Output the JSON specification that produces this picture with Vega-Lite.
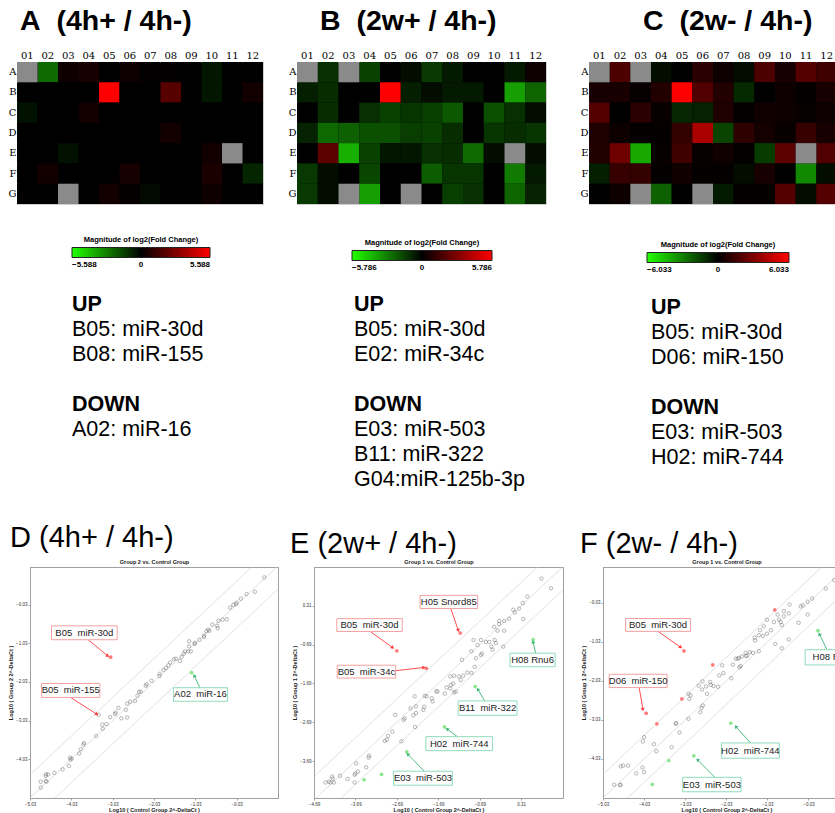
{
"$schema": "https://vega.github.io/schema/vega-lite/v6.json",
"padding": {"left": 0, "top": 6, "right": 0, "bottom": 0},
"background": "white",
"config": {"view": {"stroke": null}, "font": "Liberation Sans", "text": {"font": "Liberation Sans"}},
"spacing": 0,
"datasets": {
"heatA": [
{"r":"A","c":"01","v":null},{"r":"A","c":"02","v":-2.3},{"r":"A","c":"03","v":0.3},{"r":"A","c":"04","v":0.5},{"r":"A","c":"05","v":0},{"r":"A","c":"06","v":0.3},{"r":"A","c":"07","v":0.05},{"r":"A","c":"08","v":0.05},{"r":"A","c":"09","v":0},{"r":"A","c":"10","v":-0.5},{"r":"A","c":"11","v":0},{"r":"A","c":"12","v":0},
{"r":"B","c":"01","v":0},{"r":"B","c":"02","v":0},{"r":"B","c":"03","v":0},{"r":"B","c":"04","v":0},{"r":"B","c":"05","v":5.588},{"r":"B","c":"06","v":0},{"r":"B","c":"07","v":0},{"r":"B","c":"08","v":1.9},{"r":"B","c":"09","v":0},{"r":"B","c":"10","v":-0.5},{"r":"B","c":"11","v":0},{"r":"B","c":"12","v":0.4},
{"r":"C","c":"01","v":-0.4},{"r":"C","c":"02","v":0},{"r":"C","c":"03","v":0},{"r":"C","c":"04","v":0.4},{"r":"C","c":"05","v":0},{"r":"C","c":"06","v":0},{"r":"C","c":"07","v":0},{"r":"C","c":"08","v":0},{"r":"C","c":"09","v":0},{"r":"C","c":"10","v":0},{"r":"C","c":"11","v":0},{"r":"C","c":"12","v":0},
{"r":"D","c":"01","v":0},{"r":"D","c":"02","v":0},{"r":"D","c":"03","v":0},{"r":"D","c":"04","v":0},{"r":"D","c":"05","v":0},{"r":"D","c":"06","v":0},{"r":"D","c":"07","v":0},{"r":"D","c":"08","v":0.4},{"r":"D","c":"09","v":0},{"r":"D","c":"10","v":0},{"r":"D","c":"11","v":0},{"r":"D","c":"12","v":0},
{"r":"E","c":"01","v":0},{"r":"E","c":"02","v":0},{"r":"E","c":"03","v":-0.4},{"r":"E","c":"04","v":0},{"r":"E","c":"05","v":0},{"r":"E","c":"06","v":0},{"r":"E","c":"07","v":0},{"r":"E","c":"08","v":0},{"r":"E","c":"09","v":0},{"r":"E","c":"10","v":0.4},{"r":"E","c":"11","v":null},{"r":"E","c":"12","v":0},
{"r":"F","c":"01","v":0},{"r":"F","c":"02","v":0.4},{"r":"F","c":"03","v":0},{"r":"F","c":"04","v":0},{"r":"F","c":"05","v":0},{"r":"F","c":"06","v":0.5},{"r":"F","c":"07","v":0},{"r":"F","c":"08","v":0},{"r":"F","c":"09","v":0},{"r":"F","c":"10","v":0.6},{"r":"F","c":"11","v":0},{"r":"F","c":"12","v":-0.8},
{"r":"G","c":"01","v":0},{"r":"G","c":"02","v":0},{"r":"G","c":"03","v":null},{"r":"G","c":"04","v":0},{"r":"G","c":"05","v":0.4},{"r":"G","c":"06","v":0.1},{"r":"G","c":"07","v":-0.2},{"r":"G","c":"08","v":0},{"r":"G","c":"09","v":0},{"r":"G","c":"10","v":0.3},{"r":"G","c":"11","v":0},{"r":"G","c":"12","v":0}
],
"heatB": [
{"r":"A","c":"01","v":null},{"r":"A","c":"02","v":-1.1},{"r":"A","c":"03","v":null},{"r":"A","c":"04","v":-1.5},{"r":"A","c":"05","v":0},{"r":"A","c":"06","v":-0.3},{"r":"A","c":"07","v":-1.3},{"r":"A","c":"08","v":-0.6},{"r":"A","c":"09","v":0},{"r":"A","c":"10","v":0},{"r":"A","c":"11","v":-0.6},{"r":"A","c":"12","v":0.3},
{"r":"B","c":"01","v":-0.7},{"r":"B","c":"02","v":-1.0},{"r":"B","c":"03","v":0},{"r":"B","c":"04","v":0},{"r":"B","c":"05","v":5.786},{"r":"B","c":"06","v":-0.7},{"r":"B","c":"07","v":-0.3},{"r":"B","c":"08","v":-0.6},{"r":"B","c":"09","v":-0.6},{"r":"B","c":"10","v":0},{"r":"B","c":"11","v":-3.6},{"r":"B","c":"12","v":-2.3},
{"r":"C","c":"01","v":0},{"r":"C","c":"02","v":-1.0},{"r":"C","c":"03","v":0},{"r":"C","c":"04","v":-1.1},{"r":"C","c":"05","v":-1.5},{"r":"C","c":"06","v":-1.2},{"r":"C","c":"07","v":-1.4},{"r":"C","c":"08","v":-2.0},{"r":"C","c":"09","v":0},{"r":"C","c":"10","v":-1.8},{"r":"C","c":"11","v":-1.1},{"r":"C","c":"12","v":-0.3},
{"r":"D","c":"01","v":-0.8},{"r":"D","c":"02","v":-2.4},{"r":"D","c":"03","v":-2.2},{"r":"D","c":"04","v":-1.8},{"r":"D","c":"05","v":-1.8},{"r":"D","c":"06","v":-1.4},{"r":"D","c":"07","v":-1.5},{"r":"D","c":"08","v":-1.0},{"r":"D","c":"09","v":0},{"r":"D","c":"10","v":-1.2},{"r":"D","c":"11","v":-1.0},{"r":"D","c":"12","v":-1.2},
{"r":"E","c":"01","v":0},{"r":"E","c":"02","v":2.1},{"r":"E","c":"03","v":-4.0},{"r":"E","c":"04","v":-1.5},{"r":"E","c":"05","v":-0.5},{"r":"E","c":"06","v":-0.5},{"r":"E","c":"07","v":-1.1},{"r":"E","c":"08","v":-1.0},{"r":"E","c":"09","v":-2.4},{"r":"E","c":"10","v":-0.3},{"r":"E","c":"11","v":null},{"r":"E","c":"12","v":-0.3},
{"r":"F","c":"01","v":-1.3},{"r":"F","c":"02","v":-0.3},{"r":"F","c":"03","v":0},{"r":"F","c":"04","v":-1.6},{"r":"F","c":"05","v":0},{"r":"F","c":"06","v":0},{"r":"F","c":"07","v":-2.1},{"r":"F","c":"08","v":-1.2},{"r":"F","c":"09","v":-1.2},{"r":"F","c":"10","v":0},{"r":"F","c":"11","v":-2.8},{"r":"F","c":"12","v":-0.6},
{"r":"G","c":"01","v":-1.3},{"r":"G","c":"02","v":-0.3},{"r":"G","c":"03","v":null},{"r":"G","c":"04","v":-3.6},{"r":"G","c":"05","v":0},{"r":"G","c":"06","v":null},{"r":"G","c":"07","v":0},{"r":"G","c":"08","v":-1.4},{"r":"G","c":"09","v":-1.1},{"r":"G","c":"10","v":0},{"r":"G","c":"11","v":-2.3},{"r":"G","c":"12","v":-0.8}
],
"heatC": [
{"r":"A","c":"01","v":null},{"r":"A","c":"02","v":1.8},{"r":"A","c":"03","v":null},{"r":"A","c":"04","v":-0.3},{"r":"A","c":"05","v":0},{"r":"A","c":"06","v":1.0},{"r":"A","c":"07","v":0.3},{"r":"A","c":"08","v":-0.3},{"r":"A","c":"09","v":1.8},{"r":"A","c":"10","v":0.6},{"r":"A","c":"11","v":2.0},{"r":"A","c":"12","v":1.5},
{"r":"B","c":"01","v":0.6},{"r":"B","c":"02","v":0.6},{"r":"B","c":"03","v":0.2},{"r":"B","c":"04","v":0.8},{"r":"B","c":"05","v":6.033},{"r":"B","c":"06","v":1.9},{"r":"B","c":"07","v":0.8},{"r":"B","c":"08","v":-1.0},{"r":"B","c":"09","v":0},{"r":"B","c":"10","v":0.3},{"r":"B","c":"11","v":0.1},{"r":"B","c":"12","v":0.6},
{"r":"C","c":"01","v":2.0},{"r":"C","c":"02","v":0},{"r":"C","c":"03","v":1.0},{"r":"C","c":"04","v":0.2},{"r":"C","c":"05","v":-0.9},{"r":"C","c":"06","v":-0.8},{"r":"C","c":"07","v":0.7},{"r":"C","c":"08","v":0.1},{"r":"C","c":"09","v":0.4},{"r":"C","c":"10","v":0.3},{"r":"C","c":"11","v":0.2},{"r":"C","c":"12","v":0.3},
{"r":"D","c":"01","v":0.7},{"r":"D","c":"02","v":0.3},{"r":"D","c":"03","v":0.1},{"r":"D","c":"04","v":0.1},{"r":"D","c":"05","v":1.2},{"r":"D","c":"06","v":4.0},{"r":"D","c":"07","v":-1.6},{"r":"D","c":"08","v":1.1},{"r":"D","c":"09","v":0.5},{"r":"D","c":"10","v":0.2},{"r":"D","c":"11","v":1.3},{"r":"D","c":"12","v":0.6},
{"r":"E","c":"01","v":0.8},{"r":"E","c":"02","v":2.6},{"r":"E","c":"03","v":-4.0},{"r":"E","c":"04","v":0.2},{"r":"E","c":"05","v":1.5},{"r":"E","c":"06","v":0.2},{"r":"E","c":"07","v":0.4},{"r":"E","c":"08","v":0.1},{"r":"E","c":"09","v":-1.4},{"r":"E","c":"10","v":2.2},{"r":"E","c":"11","v":null},{"r":"E","c":"12","v":1.9},
{"r":"F","c":"01","v":-0.7},{"r":"F","c":"02","v":1.3},{"r":"F","c":"03","v":1.2},{"r":"F","c":"04","v":0.1},{"r":"F","c":"05","v":0.4},{"r":"F","c":"06","v":0.1},{"r":"F","c":"07","v":0.1},{"r":"F","c":"08","v":-0.3},{"r":"F","c":"09","v":0.6},{"r":"F","c":"10","v":0},{"r":"F","c":"11","v":-3.2},{"r":"F","c":"12","v":-0.3},
{"r":"G","c":"01","v":0},{"r":"G","c":"02","v":0.3},{"r":"G","c":"03","v":null},{"r":"G","c":"04","v":-2.3},{"r":"G","c":"05","v":0},{"r":"G","c":"06","v":null},{"r":"G","c":"07","v":-0.6},{"r":"G","c":"08","v":0.1},{"r":"G","c":"09","v":0.1},{"r":"G","c":"10","v":2.0},{"r":"G","c":"11","v":-0.3},{"r":"G","c":"12","v":2.0}
],
"diag": [
{"o":"a","x":-7,"y":-7},{"o":"a","x":3,"y":3},
{"o":"b","x":-7,"y":-6.398},{"o":"b","x":3,"y":3.602},
{"o":"c","x":-7,"y":-7.602},{"o":"c","x":3,"y":2.398}
],
"ptsD": [
{"x":0.64,"y":0.67,"t":"n"},{"x":0.41,"y":0.30,"t":"n"},{"x":0.21,"y":0.24,"t":"n"},{"x":0.07,"y":0.12,"t":"n"},{"x":-0.03,"y":0.02,"t":"n"},{"x":-0.05,"y":-0.02,"t":"n"},{"x":-0.11,"y":-0.04,"t":"n"},{"x":-0.19,"y":-0.11,"t":"n"},{"x":-0.27,"y":-0.41,"t":"n"},{"x":-0.37,"y":-0.42,"t":"n"},{"x":-0.47,"y":-0.45,"t":"n"},{"x":-0.50,"y":-0.58,"t":"n"},{"x":-0.49,"y":-0.64,"t":"n"},{"x":-0.62,"y":-0.55,"t":"n"},{"x":-0.69,"y":-0.71,"t":"n"},{"x":-0.72,"y":-0.68,"t":"n"},{"x":-0.76,"y":-0.72,"t":"n"},{"x":-0.82,"y":-0.83,"t":"n"},{"x":-0.82,"y":-0.87,"t":"n"},{"x":-0.93,"y":-0.94,"t":"n"},{"x":-1.04,"y":-1.02,"t":"n"},{"x":-1.05,"y":-1.05,"t":"n"},{"x":-1.18,"y":-0.98,"t":"n"},{"x":-1.18,"y":-1.11,"t":"n"},{"x":-1.20,"y":-1.24,"t":"n"},{"x":-1.28,"y":-1.24,"t":"n"},{"x":-1.31,"y":-1.30,"t":"n"},{"x":-1.14,"y":-1.24,"t":"n"},{"x":-1.36,"y":-1.38,"t":"n"},{"x":-1.40,"y":-1.49,"t":"n"},{"x":-1.50,"y":-1.43,"t":"n"},{"x":-1.55,"y":-1.45,"t":"n"},{"x":-1.64,"y":-1.53,"t":"n"},{"x":-1.68,"y":-1.60,"t":"n"},{"x":-1.74,"y":-1.67,"t":"n"},{"x":-1.80,"y":-1.72,"t":"n"},{"x":-1.89,"y":-1.82,"t":"n"},{"x":-1.90,"y":-1.88,"t":"n"},{"x":-2.09,"y":-2.00,"t":"n"},{"x":-2.21,"y":-2.09,"t":"n"},{"x":-2.23,"y":-2.13,"t":"n"},{"x":-2.35,"y":-2.28,"t":"n"},{"x":-2.39,"y":-2.29,"t":"n"},{"x":-2.43,"y":-2.39,"t":"n"},{"x":-2.49,"y":-2.52,"t":"n"},{"x":-2.61,"y":-2.54,"t":"n"},{"x":-2.68,"y":-2.59,"t":"n"},{"x":-2.71,"y":-2.75,"t":"n"},{"x":-2.89,"y":-2.70,"t":"n"},{"x":-2.96,"y":-2.82,"t":"n"},{"x":-2.97,"y":-2.86,"t":"n"},{"x":-3.09,"y":-2.94,"t":"n"},{"x":-2.82,"y":-2.97,"t":"n"},{"x":-2.68,"y":-2.95,"t":"n"},{"x":-3.18,"y":-3.12,"t":"n"},{"x":-3.28,"y":-3.13,"t":"n"},{"x":-3.27,"y":-3.24,"t":"n"},{"x":-3.43,"y":-3.43,"t":"n"},{"x":-3.72,"y":-3.61,"t":"n"},{"x":-3.74,"y":-3.65,"t":"n"},{"x":-3.80,"y":-3.77,"t":"n"},{"x":-3.84,"y":-3.88,"t":"n"},{"x":-4.02,"y":-4.01,"t":"n"},{"x":-4.05,"y":-4.04,"t":"n"},{"x":-4.06,"y":-3.99,"t":"n"},{"x":-4.09,"y":-4.20,"t":"n"},{"x":-4.24,"y":-4.29,"t":"n"},{"x":-4.44,"y":-4.38,"t":"n"},{"x":-4.59,"y":-4.42,"t":"n"},{"x":-4.64,"y":-4.42,"t":"n"},{"x":-4.65,"y":-4.46,"t":"n"},{"x":-4.65,"y":-4.59,"t":"n"},{"x":-4.63,"y":-4.61,"t":"n"},{"x":-4.77,"y":-4.61,"t":"n"},{"x":-4.77,"y":-4.76,"t":"n"},{"x":-3.37,"y":-2.88,"t":"n"},
{"x":-3.08,"y":-1.39,"t":"up"},{"x":-1.12,"y":-1.79,"t":"down"}
],
"annD": [
{"lab":"B05\u00a0 miR-30d","t":"up","bx1":-4.51,"bx2":-2.92,"by1":-0.58,"by2":-0.94,"tx":-3.715,"ty":-0.76,"ax":-3.62,"ay":-0.94,"ex":-3.16,"ey":-1.35,"ang":130},
{"lab":"B05\u00a0 miR-155","t":"up","bx1":-4.75,"bx2":-3.34,"by1":-2.07,"by2":-2.43,"tx":-4.045,"ty":-2.25,"ax":-4.05,"ay":-2.43,"ex":-3.42,"ey":-2.86,"ang":123},
{"lab":"A02\u00a0 miR-16","t":"down","bx1":-1.56,"bx2":-0.25,"by1":-2.18,"by2":-2.53,"tx":-0.905,"ty":-2.355,"ax":-0.92,"ay":-2.18,"ex":-1.05,"ey":-1.88,"ang":-26}
],
"ptsE": [
{"x":0.80,"y":1.01,"t":"n"},{"x":1.03,"y":0.76,"t":"n"},{"x":0.46,"y":0.55,"t":"n"},{"x":0.35,"y":0.38,"t":"n"},{"x":0.26,"y":0.24,"t":"n"},{"x":0.12,"y":0.21,"t":"n"},{"x":0.16,"y":0.14,"t":"n"},{"x":0.02,"y":-0.02,"t":"n"},{"x":-0.10,"y":-0.08,"t":"n"},{"x":-0.22,"y":-0.08,"t":"n"},{"x":-0.22,"y":-0.16,"t":"n"},{"x":-0.34,"y":-0.23,"t":"n"},{"x":0.36,"y":-0.03,"t":"n"},{"x":-0.10,"y":-0.33,"t":"n"},{"x":-0.26,"y":-0.33,"t":"n"},{"x":-0.66,"y":-0.57,"t":"n"},{"x":-0.84,"y":-0.57,"t":"n"},{"x":-0.54,"y":-0.62,"t":"n"},{"x":-0.46,"y":-0.62,"t":"n"},{"x":-0.33,"y":-0.57,"t":"n"},{"x":-0.30,"y":-0.65,"t":"n"},{"x":-0.41,"y":-0.74,"t":"n"},{"x":-0.38,"y":-0.82,"t":"n"},{"x":-0.12,"y":-0.74,"t":"n"},{"x":-0.74,"y":-0.70,"t":"n"},{"x":-0.89,"y":-0.86,"t":"n"},{"x":-0.64,"y":-0.92,"t":"n"},{"x":-0.66,"y":-0.96,"t":"n"},{"x":-0.78,"y":-1.04,"t":"n"},{"x":-1.12,"y":-1.08,"t":"n"},{"x":-0.81,"y":-1.26,"t":"n"},{"x":-0.99,"y":-1.41,"t":"n"},{"x":-0.89,"y":-1.42,"t":"n"},{"x":-1.09,"y":-1.49,"t":"n"},{"x":-1.19,"y":-1.51,"t":"n"},{"x":-1.31,"y":-1.49,"t":"n"},{"x":-1.40,"y":-1.51,"t":"n"},{"x":-1.15,"y":-1.60,"t":"n"},{"x":-1.33,"y":-1.69,"t":"n"},{"x":-1.39,"y":-1.73,"t":"n"},{"x":-1.40,"y":-1.82,"t":"n"},{"x":-1.49,"y":-1.79,"t":"n"},{"x":-1.74,"y":-1.89,"t":"n"},{"x":-1.71,"y":-1.90,"t":"n"},{"x":-1.53,"y":-1.95,"t":"n"},{"x":-1.31,"y":-1.92,"t":"n"},{"x":-1.27,"y":-1.90,"t":"n"},{"x":-1.85,"y":-2.07,"t":"n"},{"x":-2.02,"y":-2.01,"t":"n"},{"x":-1.97,"y":-2.02,"t":"n"},{"x":-2.26,"y":-2.02,"t":"n"},{"x":-1.83,"y":-2.15,"t":"n"},{"x":-2.03,"y":-2.29,"t":"n"},{"x":-2.05,"y":-2.37,"t":"n"},{"x":-2.23,"y":-2.28,"t":"n"},{"x":-2.23,"y":-2.45,"t":"n"},{"x":-2.36,"y":-2.33,"t":"n"},{"x":-2.50,"y":-2.59,"t":"n"},{"x":-2.53,"y":-2.63,"t":"n"},{"x":-2.73,"y":-2.50,"t":"n"},{"x":-2.29,"y":-2.51,"t":"n"},{"x":-2.25,"y":-2.81,"t":"n"},{"x":-2.80,"y":-2.93,"t":"n"},{"x":-2.90,"y":-3.04,"t":"n"},{"x":-2.93,"y":-3.14,"t":"n"},{"x":-2.98,"y":-3.17,"t":"n"},{"x":-2.58,"y":-3.18,"t":"n"},{"x":-3.36,"y":-3.55,"t":"n"},{"x":-3.37,"y":-3.60,"t":"n"},{"x":-3.43,"y":-3.85,"t":"n"},{"x":-3.67,"y":-3.75,"t":"n"},{"x":-3.63,"y":-3.96,"t":"n"},{"x":-3.69,"y":-4.01,"t":"n"},{"x":-3.71,"y":-4.04,"t":"n"},{"x":-4.06,"y":-4.07,"t":"n"},{"x":-3.88,"y":-4.15,"t":"n"},{"x":-4.25,"y":-4.09,"t":"n"},{"x":-4.24,"y":-4.14,"t":"n"},{"x":-4.21,"y":-4.24,"t":"n"},{"x":-4.29,"y":-4.24,"t":"n"},{"x":-4.33,"y":-4.22,"t":"n"},{"x":-4.41,"y":-4.24,"t":"n"},{"x":-3.71,"y":-4.24,"t":"n"},
{"x":0.60,"y":-0.56,"t":"down"},{"x":-0.80,"y":-1.77,"t":"down"},{"x":-1.54,"y":-2.81,"t":"down"},{"x":-2.45,"y":-3.45,"t":"down"},{"x":-3.06,"y":-4.03,"t":"down"},{"x":-3.48,"y":-4.17,"t":"down"},
{"x":-1.16,"y":-0.39,"t":"up"},{"x":-2.69,"y":-0.85,"t":"up"},{"x":-1.98,"y":-1.30,"t":"up"}
],
"annE": [
{"lab":"H05 Snord85","t":"up","bx1":-2.13,"bx2":-0.74,"by1":0.58,"by2":0.24,"tx":-1.435,"ty":0.41,"ax":-1.39,"ay":0.24,"ex":-1.21,"ey":-0.31,"ang":161},
{"lab":"B05\u00a0 miR-30d","t":"up","bx1":-4.14,"bx2":-2.56,"by1":-0.02,"by2":-0.35,"tx":-3.35,"ty":-0.185,"ax":-3.32,"ay":-0.36,"ex":-2.80,"ey":-0.76,"ang":126},
{"lab":"B05\u00a0 miR-34c","t":"up","bx1":-4.13,"bx2":-2.72,"by1":-1.22,"by2":-1.55,"tx":-3.425,"ty":-1.385,"ax":-2.72,"ay":-1.36,"ex":-2.05,"ey":-1.28,"ang":83},
{"lab":"H08 Rnu6","t":"down","bx1":0.04,"bx2":1.13,"by1":-0.91,"by2":-1.26,"tx":0.585,"ty":-1.085,"ax":0.66,"ay":-0.91,"ex":0.60,"ey":-0.63,"ang":-14},
{"lab":"B11\u00a0 miR-322","t":"down","bx1":-1.21,"bx2":0.21,"by1":-2.14,"by2":-2.51,"tx":-0.5,"ty":-2.325,"ax":-0.57,"ay":-2.14,"ex":-0.73,"ey":-1.85,"ang":-31},
{"lab":"H02\u00a0 miR-744","t":"down","bx1":-1.99,"bx2":-0.38,"by1":-3.06,"by2":-3.42,"tx":-1.185,"ty":-3.24,"ax":-1.23,"ay":-3.06,"ex":-1.47,"ey":-2.87,"ang":-52},
{"lab":"E03\u00a0 miR-503","t":"down","bx1":-2.77,"bx2":-1.35,"by1":-3.95,"by2":-4.31,"tx":-2.06,"ty":-4.13,"ax":-2.03,"ay":-3.95,"ex":-2.42,"ey":-3.52,"ang":-44}
],
"ptsF": [
{"x":0.60,"y":0.55,"t":"n"},{"x":0.39,"y":0.34,"t":"n"},{"x":0.06,"y":0.08,"t":"n"},{"x":-0.05,"y":0.00,"t":"n"},{"x":-0.17,"y":-0.09,"t":"n"},{"x":-0.22,"y":-0.12,"t":"n"},{"x":-0.49,"y":-0.07,"t":"n"},{"x":-0.63,"y":-0.24,"t":"n"},{"x":-0.63,"y":-0.37,"t":"n"},{"x":-0.78,"y":-0.33,"t":"n"},{"x":-0.51,"y":-0.30,"t":"n"},{"x":-0.71,"y":-0.52,"t":"n"},{"x":-0.75,"y":-0.46,"t":"n"},{"x":-0.87,"y":-0.52,"t":"n"},{"x":-0.68,"y":-0.60,"t":"n"},{"x":-0.27,"y":-0.54,"t":"n"},{"x":-0.05,"y":-0.33,"t":"n"},{"x":-1.04,"y":-0.46,"t":"n"},{"x":-1.12,"y":-0.63,"t":"n"},{"x":-1.21,"y":-0.73,"t":"n"},{"x":-1.24,"y":-0.86,"t":"n"},{"x":-1.33,"y":-0.99,"t":"n"},{"x":-1.34,"y":-0.92,"t":"n"},{"x":-1.14,"y":-0.88,"t":"n"},{"x":-0.94,"y":-0.73,"t":"n"},{"x":-1.04,"y":-0.82,"t":"n"},{"x":-0.84,"y":-1.08,"t":"n"},{"x":-0.68,"y":-1.19,"t":"n"},{"x":-0.51,"y":-0.97,"t":"n"},{"x":-1.24,"y":-1.27,"t":"n"},{"x":-1.38,"y":-1.31,"t":"n"},{"x":-1.46,"y":-1.29,"t":"n"},{"x":-1.52,"y":-1.38,"t":"n"},{"x":-1.55,"y":-1.39,"t":"n"},{"x":-1.56,"y":-1.31,"t":"n"},{"x":-1.65,"y":-1.40,"t":"n"},{"x":-1.72,"y":-1.44,"t":"n"},{"x":-1.75,"y":-1.46,"t":"n"},{"x":-1.80,"y":-1.46,"t":"n"},{"x":-1.68,"y":-1.65,"t":"n"},{"x":-1.71,"y":-1.68,"t":"n"},{"x":-1.87,"y":-1.61,"t":"n"},{"x":-2.13,"y":-1.63,"t":"n"},{"x":-2.10,"y":-1.83,"t":"n"},{"x":-2.20,"y":-1.89,"t":"n"},{"x":-1.91,"y":-1.96,"t":"n"},{"x":-2.42,"y":-2.06,"t":"n"},{"x":-2.41,"y":-2.13,"t":"n"},{"x":-2.61,"y":-2.04,"t":"n"},{"x":-2.70,"y":-2.15,"t":"n"},{"x":-2.62,"y":-2.25,"t":"n"},{"x":-2.52,"y":-2.17,"t":"n"},{"x":-2.34,"y":-2.16,"t":"n"},{"x":-2.23,"y":-2.18,"t":"n"},{"x":-2.90,"y":-2.40,"t":"n"},{"x":-2.95,"y":-2.36,"t":"n"},{"x":-2.93,"y":-2.49,"t":"n"},{"x":-2.50,"y":-2.36,"t":"n"},{"x":-2.60,"y":-2.66,"t":"n"},{"x":-2.63,"y":-2.72,"t":"n"},{"x":-2.66,"y":-2.83,"t":"n"},{"x":-2.95,"y":-3.00,"t":"n"},{"x":-3.26,"y":-3.13,"t":"n"},{"x":-3.25,"y":-3.11,"t":"n"},{"x":-3.17,"y":-3.35,"t":"n"},{"x":-3.36,"y":-3.73,"t":"n"},{"x":-3.73,"y":-3.83,"t":"n"},{"x":-3.79,"y":-3.65,"t":"n"},{"x":-4.03,"y":-3.47,"t":"n"},{"x":-4.06,"y":-3.58,"t":"n"},{"x":-4.07,"y":-4.25,"t":"n"},{"x":-4.03,"y":-4.37,"t":"n"},{"x":-4.22,"y":-4.40,"t":"n"},{"x":-4.42,"y":-4.20,"t":"n"},{"x":-4.54,"y":-4.20,"t":"n"},{"x":-4.60,"y":-4.22,"t":"n"},{"x":-4.76,"y":-4.69,"t":"n"},{"x":-4.60,"y":-4.69,"t":"n"},{"x":-4.62,"y":-4.70,"t":"n"},
{"x":-0.85,"y":-0.21,"t":"up"},{"x":-2.36,"y":-1.62,"t":"up"},{"x":-3.06,"y":-1.26,"t":"up"},{"x":-3.11,"y":-2.49,"t":"up"},{"x":-3.72,"y":-3.13,"t":"up"},{"x":-3.98,"y":-2.86,"t":"up"},
{"x":0.20,"y":-0.74,"t":"down"},{"x":-1.92,"y":-3.11,"t":"down"},{"x":-2.82,"y":-3.95,"t":"down"},{"x":-3.43,"y":-4.07,"t":"down"},{"x":-3.83,"y":-4.68,"t":"down"}
],
"annF": [
{"lab":"B05\u00a0 miR-30d","t":"up","bx1":-4.48,"bx2":-2.90,"by1":-0.43,"by2":-0.76,"tx":-3.69,"ty":-0.595,"ax":-3.69,"ay":-0.76,"ex":-3.15,"ey":-1.16,"ang":125},
{"lab":"D06\u00a0 miR-150","t":"up","bx1":-4.88,"bx2":-3.47,"by1":-1.86,"by2":-2.20,"tx":-4.175,"ty":-2.03,"ax":-4.15,"ay":-2.20,"ex":-4.06,"ey":-2.75,"ang":169},
{"lab":"H08 Rnu6","t":"down","bx1":-0.11,"bx2":1.29,"by1":-1.23,"by2":-1.62,"tx":0.59,"ty":-1.425,"ax":0.42,"ay":-1.23,"ex":0.24,"ey":-0.84,"ang":-26},
{"lab":"H02\u00a0 miR-744","t":"down","bx1":-2.15,"bx2":-0.74,"by1":-3.62,"by2":-4.01,"tx":-1.445,"ty":-3.815,"ax":-1.44,"ay":-3.62,"ex":-1.79,"ey":-3.21,"ang":-42},
{"lab":"E03\u00a0 miR-503","t":"down","bx1":-3.09,"bx2":-1.67,"by1":-4.50,"by2":-4.87,"tx":-2.38,"ty":-4.685,"ax":-2.31,"ay":-4.50,"ex":-2.72,"ey":-4.06,"ang":-44}
]
},
"vconcat": [
{
"bounds": "flush", "spacing": 0,
"resolve": {"scale": {"color": "independent"}, "legend": {"color": "independent"}},
"hconcat": [
{"width": 17, "height": 223, "data": {"values": []}, "mark": "point"},
{
"width": 246, "height": 142, "view": {"stroke": "#cfcfcf", "fill": "#000000"},
"title": {"text": "A\u00a0 (4h+ / 4h-)", "anchor": "start", "frame": "group", "dx": 3, "offset": 15, "fontSize": 28.5, "fontWeight": "bold", "font": "Liberation Sans", "color": "#000"},
"data": {"name": "heatA"},
"encoding": {
"x": {"field": "c", "type": "ordinal", "scale": {"domain": ["01","02","03","04","05","06","07","08","09","10","11","12"], "paddingInner": 0, "paddingOuter": 0}, "axis": {"orient": "top", "title": null, "domain": false, "ticks": false, "labelAngle": 0, "labelFont": "DejaVu Serif", "labelFontSize": 10, "labelPadding": 2, "labelColor": "#000"}},
"y": {"field": "r", "type": "ordinal", "scale": {"domain": ["A","B","C","D","E","F","G"], "paddingInner": 0, "paddingOuter": 0}, "axis": {"title": null, "domain": false, "ticks": false, "labelFont": "DejaVu Serif", "labelFontSize": 10, "labelPadding": 1, "labelColor": "#000"}}
},
"layer": [
{"transform": [{"filter": "isValid(datum.v)"}], "mark": {"type": "rect"},
 "encoding": {"color": {"field": "v", "type": "quantitative", "scale": {"domain": [-5.588, 0, 5.588], "range": ["#22ff00", "#000000", "#ff0000"], "interpolate": "rgb", "nice": false}, "legend": {"type": "gradient", "orient": "none", "legendX": 55, "legendY": 174, "direction": "horizontal", "gradientLength": 138, "gradientThickness": 10, "title": "Magnitude of log2(Fold Change)", "titleFontSize": 7.5, "titleFontWeight": "bold", "titleAnchor": "middle", "titlePadding": 4, "titleColor": "#000", "values": [-5.588, 0, 5.588], "format": ".4~g", "labelFontSize": 8, "labelFontWeight": "bold", "labelColor": "#000", "labelAlign": "center", "labelOffset": 3, "labelOverlap": false, "gradientStrokeColor": "#222", "gradientStrokeWidth": 1}}}},
{"transform": [{"filter": "!isValid(datum.v)"}], "mark": {"type": "rect", "color": "#8a8a8a"}}
]
},
{"width": 34, "height": 223, "data": {"values": []}, "mark": "point"},
{
"width": 249, "height": 142, "view": {"stroke": "#cfcfcf", "fill": "#000000"},
"title": {"text": "B\u00a0 (2w+ / 4h-)", "anchor": "start", "frame": "group", "dx": 23, "offset": 15, "fontSize": 28.5, "fontWeight": "bold", "font": "Liberation Sans", "color": "#000"},
"data": {"name": "heatB"},
"encoding": {
"x": {"field": "c", "type": "ordinal", "scale": {"domain": ["01","02","03","04","05","06","07","08","09","10","11","12"], "paddingInner": 0, "paddingOuter": 0}, "axis": {"orient": "top", "title": null, "domain": false, "ticks": false, "labelAngle": 0, "labelFont": "DejaVu Serif", "labelFontSize": 10, "labelPadding": 2, "labelColor": "#000"}},
"y": {"field": "r", "type": "ordinal", "scale": {"domain": ["A","B","C","D","E","F","G"], "paddingInner": 0, "paddingOuter": 0}, "axis": {"title": null, "domain": false, "ticks": false, "labelFont": "DejaVu Serif", "labelFontSize": 10, "labelPadding": 1, "labelColor": "#000"}}
},
"layer": [
{"transform": [{"filter": "isValid(datum.v)"}], "mark": {"type": "rect"},
 "encoding": {"color": {"field": "v", "type": "quantitative", "scale": {"domain": [-5.786, 0, 5.786], "range": ["#22ff00", "#000000", "#ff0000"], "interpolate": "rgb", "nice": false}, "legend": {"type": "gradient", "orient": "none", "legendX": 55, "legendY": 177, "direction": "horizontal", "gradientLength": 140, "gradientThickness": 10, "title": "Magnitude of log2(Fold Change)", "titleFontSize": 7.5, "titleFontWeight": "bold", "titleAnchor": "middle", "titlePadding": 4, "titleColor": "#000", "values": [-5.786, 0, 5.786], "format": ".4~g", "labelFontSize": 8, "labelFontWeight": "bold", "labelColor": "#000", "labelAlign": "center", "labelOffset": 3, "labelOverlap": false, "gradientStrokeColor": "#222", "gradientStrokeWidth": 1}}}},
{"transform": [{"filter": "!isValid(datum.v)"}], "mark": {"type": "rect", "color": "#8a8a8a"}}
]
},
{"width": 43, "height": 223, "data": {"values": []}, "mark": "point"},
{
"width": 248, "height": 142, "view": {"stroke": "#cfcfcf", "fill": "#000000"},
"title": {"text": "C\u00a0 (2w- / 4h-)", "anchor": "start", "frame": "group", "dx": 54, "offset": 15, "fontSize": 28.5, "fontWeight": "bold", "font": "Liberation Sans", "color": "#000"},
"data": {"name": "heatC"},
"encoding": {
"x": {"field": "c", "type": "ordinal", "scale": {"domain": ["01","02","03","04","05","06","07","08","09","10","11","12"], "paddingInner": 0, "paddingOuter": 0}, "axis": {"orient": "top", "title": null, "domain": false, "ticks": false, "labelAngle": 0, "labelFont": "DejaVu Serif", "labelFontSize": 10, "labelPadding": 2, "labelColor": "#000"}},
"y": {"field": "r", "type": "ordinal", "scale": {"domain": ["A","B","C","D","E","F","G"], "paddingInner": 0, "paddingOuter": 0}, "axis": {"title": null, "domain": false, "ticks": false, "labelFont": "DejaVu Serif", "labelFontSize": 10, "labelPadding": 1, "labelColor": "#000"}}
},
"layer": [
{"transform": [{"filter": "isValid(datum.v)"}], "mark": {"type": "rect"},
 "encoding": {"color": {"field": "v", "type": "quantitative", "scale": {"domain": [-6.033, 0, 6.033], "range": ["#22ff00", "#000000", "#ff0000"], "interpolate": "rgb", "nice": false}, "legend": {"type": "gradient", "orient": "none", "legendX": 58, "legendY": 179, "direction": "horizontal", "gradientLength": 142, "gradientThickness": 10, "title": "Magnitude of log2(Fold Change)", "titleFontSize": 7.5, "titleFontWeight": "bold", "titleAnchor": "middle", "titlePadding": 4, "titleColor": "#000", "values": [-6.033, 0, 6.033], "format": ".4~g", "labelFontSize": 8, "labelFontWeight": "bold", "labelColor": "#000", "labelAlign": "center", "labelOffset": 3, "labelOverlap": false, "gradientStrokeColor": "#222", "gradientStrokeWidth": 1}}}},
{"transform": [{"filter": "!isValid(datum.v)"}], "mark": {"type": "rect", "color": "#8a8a8a"}}
]
}
]
},
{
"bounds": "flush", "spacing": 0,
"hconcat": [
{"width": 72, "height": 238, "data": {"values": []}, "mark": "point"},
{
"width": 240, "height": 200,
"data": {"values": [{"i":0,"t":"UP","k":"h"},{"i":1,"t":"B05: miR-30d","k":"e"},{"i":2,"t":"B08: miR-155","k":"e"},{"i":4,"t":"DOWN","k":"h"},{"i":5,"t":"A02: miR-16","k":"e"}]},
"encoding": {"x": {"datum": 0, "type": "quantitative", "scale": {"domain": [0, 1]}, "axis": null}, "y": {"field": "i", "type": "quantitative", "scale": {"domain": [-0.8, 7.2], "reverse": true, "nice": false, "zero": false}, "axis": null}, "text": {"field": "t"}},
"layer": [
{"transform": [{"filter": "datum.k === 'h'"}], "mark": {"type": "text", "align": "left", "baseline": "middle", "fontSize": 21.5, "fontWeight": "bold", "color": "#000"}},
{"transform": [{"filter": "datum.k === 'e'"}], "mark": {"type": "text", "align": "left", "baseline": "middle", "fontSize": 21.5, "color": "#000"}}
]
},
{"width": 42, "height": 200, "data": {"values": []}, "mark": "point"},
{
"width": 250, "height": 200,
"data": {"values": [{"i":0,"t":"UP","k":"h"},{"i":1,"t":"B05: miR-30d","k":"e"},{"i":2,"t":"E02: miR-34c","k":"e"},{"i":4,"t":"DOWN","k":"h"},{"i":5,"t":"E03: miR-503","k":"e"},{"i":6,"t":"B11: miR-322","k":"e"},{"i":7,"t":"G04:miR-125b-3p","k":"e"}]},
"encoding": {"x": {"datum": 0, "type": "quantitative", "scale": {"domain": [0, 1]}, "axis": null}, "y": {"field": "i", "type": "quantitative", "scale": {"domain": [-0.8, 7.2], "reverse": true, "nice": false, "zero": false}, "axis": null}, "text": {"field": "t"}},
"layer": [
{"transform": [{"filter": "datum.k === 'h'"}], "mark": {"type": "text", "align": "left", "baseline": "middle", "fontSize": 21.5, "fontWeight": "bold", "color": "#000"}},
{"transform": [{"filter": "datum.k === 'e'"}], "mark": {"type": "text", "align": "left", "baseline": "middle", "fontSize": 21.5, "color": "#000"}}
]
},
{"width": 47, "height": 200, "data": {"values": []}, "mark": "point"},
{
"width": 150, "height": 200,
"data": {"values": [{"i":0,"t":"UP","k":"h"},{"i":1,"t":"B05: miR-30d","k":"e"},{"i":2,"t":"D06: miR-150","k":"e"},{"i":4,"t":"DOWN","k":"h"},{"i":5,"t":"E03: miR-503","k":"e"},{"i":6,"t":"H02: miR-744","k":"e"}]},
"encoding": {"x": {"datum": 0, "type": "quantitative", "scale": {"domain": [0, 1]}, "axis": null}, "y": {"field": "i", "type": "quantitative", "scale": {"domain": [-0.92, 7.08], "reverse": true, "nice": false, "zero": false}, "axis": null}, "text": {"field": "t"}},
"layer": [
{"transform": [{"filter": "datum.k === 'h'"}], "mark": {"type": "text", "align": "left", "baseline": "middle", "fontSize": 21.5, "fontWeight": "bold", "color": "#000"}},
{"transform": [{"filter": "datum.k === 'e'"}], "mark": {"type": "text", "align": "left", "baseline": "middle", "fontSize": 21.5, "color": "#000"}}
]
}
]
},
{
"bounds": "flush", "spacing": 0,
"hconcat": [
{"width": 30, "height": 231, "data": {"values": []}, "mark": "point"},
{
"width": 248, "height": 231, "view": {"stroke": "#a0a0a0"},
"title": {"text": "D (4h+ / 4h-)", "anchor": "start", "frame": "group", "dx": -20, "offset": 6, "fontSize": 29, "fontWeight": "normal", "font": "Liberation Sans", "color": "#000"},
"resolve": {"axis": {"x": "independent", "y": "independent"}},
"layer": [
{"data": {"name": "diag"}, "mark": {"type": "line", "clip": true, "color": "#cccccc", "strokeWidth": 0.6}, "encoding": {"x": {"field": "x", "type": "quantitative", "scale": {"domain": [-5.03, 0.97], "nice": false, "zero": false}, "axis": {"orient": "top", "title": "Group 2 vs. Control Group", "labels": false, "ticks": false, "domain": true, "domainColor": "#a0a0a0", "grid": false, "titleFontSize": 5.5, "titleFontWeight": "bold", "titlePadding": 3, "titleColor": "#222"}}, "y": {"field": "y", "type": "quantitative", "scale": {"domain": [-5.03, 0.94], "nice": false, "zero": false}, "axis": null}, "detail": {"field": "o"}}},
{"data": {"name": "ptsD"}, "transform": [{"filter": "datum.t === 'n'"}], "mark": {"type": "point", "filled": false, "color": "#555555", "size": 12, "strokeWidth": 0.6}, "encoding": {
"x": {"field": "x", "type": "quantitative", "scale": {"domain": [-5.03, 0.97], "nice": false, "zero": false}, "axis": {"orient": "bottom", "values": [-5.03, -4.03, -3.03, -2.03, -1.03, -0.03], "format": ".2f", "title": "Log10 ( Control Group 2^-DeltaCt )", "grid": false, "labelFontSize": 4.5, "labelFlush": false, "tickSize": 2, "labelPadding": 1, "titlePadding": 2, "titleFontSize": 5.5, "titleFontWeight": "bold", "domainColor": "#a0a0a0", "tickColor": "#a0a0a0", "labelColor": "#333", "titleColor": "#222"}},
"y": {"field": "y", "type": "quantitative", "scale": {"domain": [-5.03, 0.94], "nice": false, "zero": false}, "axis": {"orient": "left", "values": [-4.03, -3.03, -2.03, -1.03, -0.03], "format": ".2f", "title": "Log10 ( Group 2 2^-DeltaCt )", "grid": false, "labelFontSize": 4.5, "labelFlush": false, "tickSize": 2, "labelPadding": 1, "titlePadding": 2, "titleFontSize": 5.5, "titleFontWeight": "bold", "domainColor": "#a0a0a0", "tickColor": "#a0a0a0", "labelColor": "#333", "titleColor": "#222"}}}},
{"data": {"name": "ptsD"}, "transform": [{"filter": "datum.t !== 'n'"}], "mark": {"type": "circle", "size": 14, "opacity": 1}, "encoding": {"x": {"field": "x", "type": "quantitative", "axis": null}, "y": {"field": "y", "type": "quantitative", "axis": null}, "fill": {"field": "t", "type": "nominal", "scale": {"domain": ["up", "down"], "range": ["#ff7a7a", "#8ee68e"]}, "legend": null}}},
{"data": {"name": "annD"}, "layer": [
{"mark": {"type": "rule", "strokeWidth": 0.9}, "encoding": {"x": {"field": "ax", "type": "quantitative", "axis": null}, "y": {"field": "ay", "type": "quantitative", "axis": null}, "x2": {"field": "ex"}, "y2": {"field": "ey"}, "color": {"field": "t", "type": "nominal", "scale": {"domain": ["up", "down"], "range": ["#ff3b3b", "#3cb878"]}, "legend": null}}},
{"mark": {"type": "point", "shape": "triangle", "filled": true, "size": 16, "opacity": 1}, "encoding": {"x": {"field": "ex", "type": "quantitative", "axis": null}, "y": {"field": "ey", "type": "quantitative", "axis": null}, "angle": {"field": "ang", "type": "quantitative", "scale": null}, "color": {"field": "t", "type": "nominal", "scale": {"domain": ["up", "down"], "range": ["#ff3b3b", "#3cb878"]}, "legend": null}}},
{"mark": {"type": "rect", "fill": "white", "strokeWidth": 1}, "encoding": {"x": {"field": "bx1", "type": "quantitative", "axis": null}, "x2": {"field": "bx2"}, "y": {"field": "by1", "type": "quantitative", "axis": null}, "y2": {"field": "by2"}, "stroke": {"field": "t", "type": "nominal", "scale": {"domain": ["up", "down"], "range": ["#f5a0a0", "#8fdcbc"]}, "legend": null}}},
{"mark": {"type": "text", "fontSize": 9.5, "color": "#222"}, "encoding": {"x": {"field": "tx", "type": "quantitative", "axis": null}, "y": {"field": "ty", "type": "quantitative", "axis": null}, "text": {"field": "lab"}}}
]}
]
},
{"width": 36, "height": 231, "data": {"values": []}, "mark": "point"},
{
"width": 249, "height": 231, "view": {"stroke": "#a0a0a0"},
"title": {"text": "E (2w+ / 4h-)", "anchor": "start", "frame": "group", "dx": -24, "offset": 0, "fontSize": 29, "fontWeight": "normal", "font": "Liberation Sans", "color": "#000"},
"resolve": {"axis": {"x": "independent", "y": "independent"}},
"layer": [
{"data": {"name": "diag"}, "mark": {"type": "line", "clip": true, "color": "#cccccc", "strokeWidth": 0.6}, "encoding": {"x": {"field": "x", "type": "quantitative", "scale": {"domain": [-4.69, 1.32], "nice": false, "zero": false}, "axis": {"orient": "top", "title": "Group 1 vs. Control Group", "labels": false, "ticks": false, "domain": true, "domainColor": "#a0a0a0", "grid": false, "titleFontSize": 5.5, "titleFontWeight": "bold", "titlePadding": 3, "titleColor": "#222"}}, "y": {"field": "y", "type": "quantitative", "scale": {"domain": [-4.64, 1.31], "nice": false, "zero": false}, "axis": null}, "detail": {"field": "o"}}},
{"data": {"name": "ptsE"}, "transform": [{"filter": "datum.t === 'n'"}], "mark": {"type": "point", "filled": false, "color": "#555555", "size": 12, "strokeWidth": 0.6}, "encoding": {
"x": {"field": "x", "type": "quantitative", "scale": {"domain": [-4.69, 1.32], "nice": false, "zero": false}, "axis": {"orient": "bottom", "values": [-4.69, -3.69, -2.69, -1.69, -0.69, 0.31], "format": ".2f", "title": "Log10 ( Control Group 2^-DeltaCt )", "grid": false, "labelFontSize": 4.5, "labelFlush": false, "tickSize": 2, "labelPadding": 1, "titlePadding": 2, "titleFontSize": 5.5, "titleFontWeight": "bold", "domainColor": "#a0a0a0", "tickColor": "#a0a0a0", "labelColor": "#333", "titleColor": "#222"}},
"y": {"field": "y", "type": "quantitative", "scale": {"domain": [-4.64, 1.31], "nice": false, "zero": false}, "axis": {"orient": "left", "values": [-3.69, -2.69, -1.69, -0.69, 0.31], "format": ".2f", "title": "Log10 ( Group 1 2^-DeltaCt )", "grid": false, "labelFontSize": 4.5, "labelFlush": false, "tickSize": 2, "labelPadding": 1, "titlePadding": 2, "titleFontSize": 5.5, "titleFontWeight": "bold", "domainColor": "#a0a0a0", "tickColor": "#a0a0a0", "labelColor": "#333", "titleColor": "#222"}}}},
{"data": {"name": "ptsE"}, "transform": [{"filter": "datum.t !== 'n'"}], "mark": {"type": "circle", "size": 14, "opacity": 1}, "encoding": {"x": {"field": "x", "type": "quantitative", "axis": null}, "y": {"field": "y", "type": "quantitative", "axis": null}, "fill": {"field": "t", "type": "nominal", "scale": {"domain": ["up", "down"], "range": ["#ff7a7a", "#8ee68e"]}, "legend": null}}},
{"data": {"name": "annE"}, "layer": [
{"mark": {"type": "rule", "strokeWidth": 0.9}, "encoding": {"x": {"field": "ax", "type": "quantitative", "axis": null}, "y": {"field": "ay", "type": "quantitative", "axis": null}, "x2": {"field": "ex"}, "y2": {"field": "ey"}, "color": {"field": "t", "type": "nominal", "scale": {"domain": ["up", "down"], "range": ["#ff3b3b", "#3cb878"]}, "legend": null}}},
{"mark": {"type": "point", "shape": "triangle", "filled": true, "size": 16, "opacity": 1}, "encoding": {"x": {"field": "ex", "type": "quantitative", "axis": null}, "y": {"field": "ey", "type": "quantitative", "axis": null}, "angle": {"field": "ang", "type": "quantitative", "scale": null}, "color": {"field": "t", "type": "nominal", "scale": {"domain": ["up", "down"], "range": ["#ff3b3b", "#3cb878"]}, "legend": null}}},
{"mark": {"type": "rect", "fill": "white", "strokeWidth": 1}, "encoding": {"x": {"field": "bx1", "type": "quantitative", "axis": null}, "x2": {"field": "bx2"}, "y": {"field": "by1", "type": "quantitative", "axis": null}, "y2": {"field": "by2"}, "stroke": {"field": "t", "type": "nominal", "scale": {"domain": ["up", "down"], "range": ["#f5a0a0", "#8fdcbc"]}, "legend": null}}},
{"mark": {"type": "text", "fontSize": 9.5, "color": "#222"}, "encoding": {"x": {"field": "tx", "type": "quantitative", "axis": null}, "y": {"field": "ty", "type": "quantitative", "axis": null}, "text": {"field": "lab"}}}
]}
]
},
{"width": 40, "height": 231, "data": {"values": []}, "mark": "point"},
{
"width": 247, "height": 231, "view": {"stroke": "#a0a0a0"},
"title": {"text": "F (2w- / 4h-)", "anchor": "start", "frame": "group", "dx": -23, "offset": 0, "fontSize": 29, "fontWeight": "normal", "font": "Liberation Sans", "color": "#000"},
"resolve": {"axis": {"x": "independent", "y": "independent"}},
"layer": [
{"data": {"name": "diag"}, "mark": {"type": "line", "clip": true, "color": "#cccccc", "strokeWidth": 0.6}, "encoding": {"x": {"field": "x", "type": "quantitative", "scale": {"domain": [-5.03, 0.98], "nice": false, "zero": false}, "axis": {"orient": "top", "title": "Group 1 vs. Control Group", "labels": false, "ticks": false, "domain": true, "domainColor": "#a0a0a0", "grid": false, "titleFontSize": 5.5, "titleFontWeight": "bold", "titlePadding": 3, "titleColor": "#222"}}, "y": {"field": "y", "type": "quantitative", "scale": {"domain": [-5.03, 0.89], "nice": false, "zero": false}, "axis": null}, "detail": {"field": "o"}}},
{"data": {"name": "ptsF"}, "transform": [{"filter": "datum.t === 'n'"}], "mark": {"type": "point", "filled": false, "color": "#555555", "size": 12, "strokeWidth": 0.6}, "encoding": {
"x": {"field": "x", "type": "quantitative", "scale": {"domain": [-5.03, 0.98], "nice": false, "zero": false}, "axis": {"orient": "bottom", "values": [-5.03, -4.03, -3.03, -2.03, -1.03, -0.03], "format": ".2f", "title": "Log10 ( Control Group 2^-DeltaCt )", "grid": false, "labelFontSize": 4.5, "labelFlush": false, "tickSize": 2, "labelPadding": 1, "titlePadding": 2, "titleFontSize": 5.5, "titleFontWeight": "bold", "domainColor": "#a0a0a0", "tickColor": "#a0a0a0", "labelColor": "#333", "titleColor": "#222"}},
"y": {"field": "y", "type": "quantitative", "scale": {"domain": [-5.03, 0.89], "nice": false, "zero": false}, "axis": {"orient": "left", "values": [-4.03, -3.03, -2.03, -1.03, -0.03], "format": ".2f", "title": "Log10 ( Group 1 2^-DeltaCt )", "grid": false, "labelFontSize": 4.5, "labelFlush": false, "tickSize": 2, "labelPadding": 1, "titlePadding": 2, "titleFontSize": 5.5, "titleFontWeight": "bold", "domainColor": "#a0a0a0", "tickColor": "#a0a0a0", "labelColor": "#333", "titleColor": "#222"}}}},
{"data": {"name": "ptsF"}, "transform": [{"filter": "datum.t !== 'n'"}], "mark": {"type": "circle", "size": 14, "opacity": 1}, "encoding": {"x": {"field": "x", "type": "quantitative", "axis": null}, "y": {"field": "y", "type": "quantitative", "axis": null}, "fill": {"field": "t", "type": "nominal", "scale": {"domain": ["up", "down"], "range": ["#ff7a7a", "#8ee68e"]}, "legend": null}}},
{"data": {"name": "annF"}, "layer": [
{"mark": {"type": "rule", "strokeWidth": 0.9}, "encoding": {"x": {"field": "ax", "type": "quantitative", "axis": null}, "y": {"field": "ay", "type": "quantitative", "axis": null}, "x2": {"field": "ex"}, "y2": {"field": "ey"}, "color": {"field": "t", "type": "nominal", "scale": {"domain": ["up", "down"], "range": ["#ff3b3b", "#3cb878"]}, "legend": null}}},
{"mark": {"type": "point", "shape": "triangle", "filled": true, "size": 16, "opacity": 1}, "encoding": {"x": {"field": "ex", "type": "quantitative", "axis": null}, "y": {"field": "ey", "type": "quantitative", "axis": null}, "angle": {"field": "ang", "type": "quantitative", "scale": null}, "color": {"field": "t", "type": "nominal", "scale": {"domain": ["up", "down"], "range": ["#ff3b3b", "#3cb878"]}, "legend": null}}},
{"mark": {"type": "rect", "fill": "white", "strokeWidth": 1}, "encoding": {"x": {"field": "bx1", "type": "quantitative", "axis": null}, "x2": {"field": "bx2"}, "y": {"field": "by1", "type": "quantitative", "axis": null}, "y2": {"field": "by2"}, "stroke": {"field": "t", "type": "nominal", "scale": {"domain": ["up", "down"], "range": ["#f5a0a0", "#8fdcbc"]}, "legend": null}}},
{"mark": {"type": "text", "fontSize": 9.5, "color": "#222"}, "encoding": {"x": {"field": "tx", "type": "quantitative", "axis": null}, "y": {"field": "ty", "type": "quantitative", "axis": null}, "text": {"field": "lab"}}}
]}
]
}
]
}
]
}
